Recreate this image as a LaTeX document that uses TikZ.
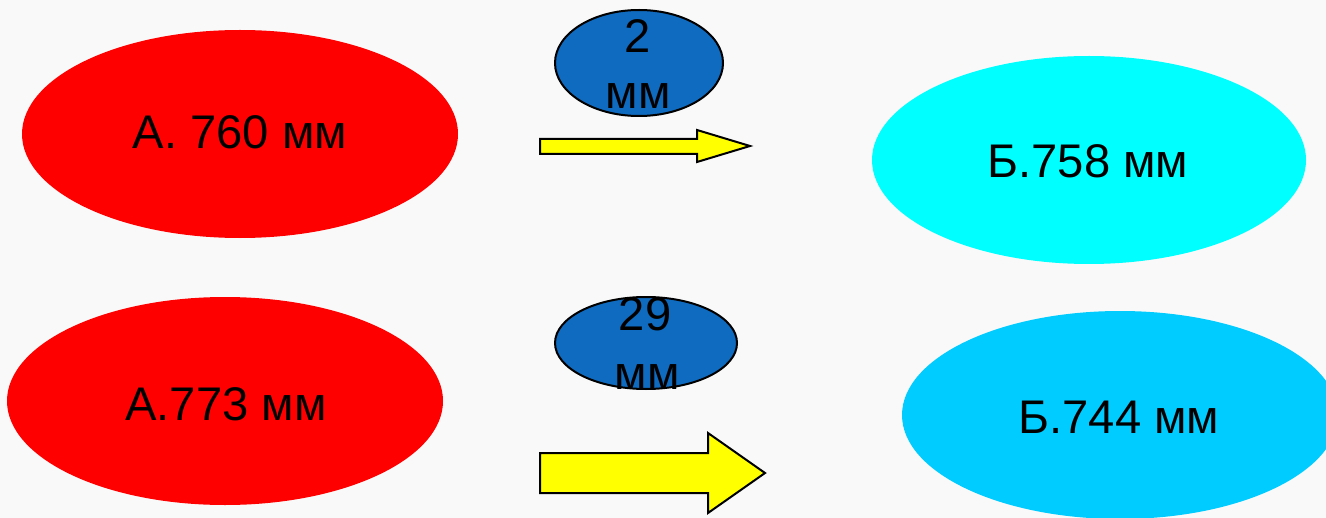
\documentclass[tikz,border=0pt]{standalone}
\usepackage{fontspec}
\setmainfont{Liberation Sans}
\usetikzlibrary{shapes.geometric}
\definecolor{bg}{HTML}{F9F9F9}
\definecolor{redE}{HTML}{FF0000}
\definecolor{cyanA}{HTML}{00FFFF}
\definecolor{cyanB}{HTML}{00CCFF}
\definecolor{blueE}{HTML}{0F6BC0}
\definecolor{yel}{HTML}{FFFF00}
\tikzset{
  big/.style={ellipse, inner sep=0pt, draw=none},
  small/.style={ellipse, inner sep=0pt, draw=black, line width=1pt, fill=blueE},
  txt/.style={anchor=base, inner sep=0pt, font=\fontsize{23.6}{28}\selectfont},
  yarrow/.style={draw=black, line width=1pt, fill=yel, line join=miter},
}
\begin{document}
\begin{tikzpicture}[x=0.5pt,y=-0.5pt]
\fill[bg] (0,0) rectangle (1326,518);
\useasboundingbox (0,0) rectangle (1326,518);
% big ellipses
\node[big, fill=redE, minimum width=218pt, minimum height=104pt] (a1) at (240,134) {};
\node[big, fill=redE, minimum width=218pt, minimum height=104pt] (a2) at (225,401) {};
\node[big, fill=cyanA, minimum width=217pt, minimum height=104pt] (b1) at (1089,160) {};
\node[big, fill=cyanB, minimum width=218pt, minimum height=104pt] (b2) at (1120,415) {};
\node[txt] (ta1) at (240,149) {А. 760 мм};
\node[txt] (ta2) at (226,420) {А.773 мм};
\node[txt] (tb1) at (1088,178) {Б.758 мм};
\node[txt] (tb2) at (1119,433) {Б.744 мм};
% small ellipses
\node[small, minimum width=84pt, minimum height=53pt] (d1) at (639,63) {};
\node[small, minimum width=91pt, minimum height=46pt] (d2) at (646,343) {};
\node[txt] (d1a) at (638,53) {2};
\node[txt] (d1b) at (638,109) {мм};
\node[txt] (d2a) at (645,330) {29};
\node[txt] (d2b) at (647,389) {мм};
% arrows
\draw[yarrow] (540,139) -- (697,139) -- (697,130) -- (750,146) -- (697,162) -- (697,154) -- (540,154) -- cycle;
\draw[yarrow] (540,453) -- (708,453) -- (708,433) -- (765,473) -- (708,513) -- (708,493) -- (540,493) -- cycle;
\end{tikzpicture}
\end{document}
